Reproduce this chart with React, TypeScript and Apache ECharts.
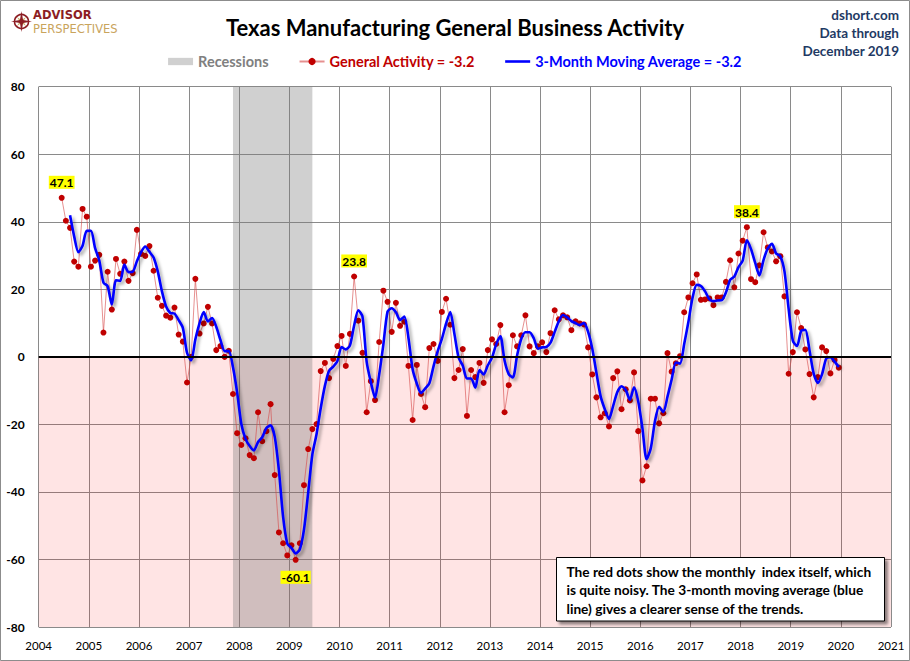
import React, { useEffect, useRef } from "react";
import * as echarts from "echarts";

// ---------- DATA (Dallas Fed Texas Manufacturing, General Business Activity) ----------
const firstYear = 2004;
const firstMonth = 6; // series starts June 2004
const ga2004 = [47.1, 40.3, 38.2, 28.2, 26.7, 43.8, 41.5];
const ga2005 = [26.7, 28.5, 30.2, 7.2, 25.2, 14.0, 29.0, 24.6, 28.2, 22.5, 24.8, 37.6];
const ga2006 = [30.5, 29.9, 32.8, 25.5, 17.5, 15.1, 12.2, 11.6, 14.6, 6.6, 4.5, -7.6];
const ga2007 = [0.0, 23.1, 6.9, 9.9, 14.8, 9.9, 2.0, 3.2, 0.0, 1.8, -11.0, -22.6];
const ga2008 = [-26.1, -24.1, -29.1, -30.0, -16.4, -25.0, -22.0, -14.0, -35.0, -52.0, -55.2, -58.8];
const ga2009 = [-55.8, -60.1, -55.2, -38.0, -27.3, -21.4, -19.9, -4.2, -1.8, -6.3, -0.6, 3.2];
const ga2010 = [6.2, -2.7, 6.8, 23.8, 10.7, 1.2, -16.4, -7.2, -12.8, 4.4, 19.6, 16.3];
const ga2011 = [7.4, 16.0, 9.2, 10.4, -2.7, -18.7, -2.4, -11.0, -14.9, 2.6, 3.8, -1.2];
const ga2012 = [13.3, 17.2, 9.5, -6.3, -3.9, 2.3, -17.5, -3.9, -6.0, -1.8, -7.7, 2.0];
const ga2013 = [5.2, 3.8, 9.4, -16.4, -8.4, 6.4, 3.1, 6.4, 12.3, 3.1, 1.1, 3.1];
const ga2014 = [4.3, 1.4, 7.0, 13.8, 11.1, 12.3, 11.7, 7.9, 10.5, 9.9, 9.6, 2.8];
const ga2015 = [-5.2, -12.0, -17.9, -16.7, -20.6, -6.3, -4.3, -15.5, -9.6, -12.9, -4.6, -22.0];
const ga2016 = [-36.6, -32.4, -12.4, -12.4, -19.7, -16.7, 1.1, -4.4, -1.9, 0.2, 13.2, 17.6];
const ga2017 = [21.8, 24.4, 16.9, 17.0, 17.3, 15.3, 17.6, 17.6, 22.2, 28.6, 20.6, 30.6];
const ga2018 = [34.4, 38.4, 23.0, 22.1, 27.1, 36.9, 32.4, 31.2, 28.3, 29.8, 17.9, -5.0];
const ga2019 = [1.4, 13.2, 8.5, 2.2, -5.1, -12.0, -6.0, 2.8, 1.7, -4.9, -0.9, -3.2];

const yearlyValues = [
  ga2004, ga2005, ga2006, ga2007, ga2008, ga2009, ga2010, ga2011,
  ga2012, ga2013, ga2014, ga2015, ga2016, ga2017, ga2018, ga2019,
];

// months whose value carries a yellow call-out label
const annotatedMonths = ["2004-06", "2009-02", "2010-04", "2018-02"];
// recession (peak month, trough month)
const recessions = [["2007-12", "2009-06"]];

const xTicks = { min: 2004, max: 2021, interval: 1 };
const yTicks = { min: -80, max: 80, interval: 20 };

const legendGA = "General Activity = -3.2";
const legendMA = "3-Month Moving Average = -3.2";
const legendRec = "Recessions";
const titleText = "Texas Manufacturing General Business Activity";
const sourceText = "dshort.com\nData through\nDecember 2019";
const noteText =
  "The red dots show the monthly  index itself, which\nis quite noisy. The 3-month moving average (blue\nline) gives a clearer sense of the trends.";

// ---------- helpers ----------
const monthToX = (ym: string) => {
  const [y, m] = ym.split("-").map(Number);
  return y + (m - 0.5) / 12;
};

const monthKeys: string[] = [];
const values: number[] = [];
yearlyValues.forEach((arr, yi) => {
  const year = firstYear + yi;
  arr.forEach((v, j) => {
    const month = (yi === 0 ? firstMonth : 1) + j;
    monthKeys.push(`${year}-${String(month).padStart(2, "0")}`);
    values.push(v);
  });
});

const FONT = 'Lato, "Open Sans", "DejaVu Sans", sans-serif';

export default function App() {
  const ref = useRef<HTMLDivElement>(null);

  useEffect(() => {
    document.body.style.margin = "0";
    const chart = echarts.init(ref.current!, null, { renderer: "svg" });

    const gaData = values.map((v, i) => {
      const key = monthKeys[i];
      const x = monthToX(key);
      if (annotatedMonths.includes(key)) {
        return {
          value: [x, v],
          label: {
            show: true,
            position: v < 0 ? "bottom" : "top",
            distance: v < 0 ? 8 : 6,
            formatter: () => v.toFixed(1),
            backgroundColor: "#FFFF00",
            color: "#000",
            fontFamily: FONT,
            fontWeight: "bold",
            fontSize: 12,
            padding: [1, 1, 0, 1],
          },
        };
      }
      return [x, v];
    });

    // 3-month moving average of the monthly readings
    const maData: number[][] = [];
    for (let i = 2; i < values.length; i++) {
      const avg = (values[i - 2] + values[i - 1] + values[i]) / 3;
      maData.push([monthToX(monthKeys[i]), Math.round(avg * 10) / 10]);
    }

    const recessionAreas = recessions.map(([p, t]) => [
      { xAxis: monthToX(p) - 1 / 12, itemStyle: { color: "rgba(120,120,120,0.35)" } },
      { xAxis: monthToX(t) },
    ]);

    // logo star points
    const cx = 21.5, cy = 21.5;
    const star = (r: number, ri: number, rot: number) => {
      const pts: number[][] = [];
      for (let k = 0; k < 8; k++) {
        const ang = rot + (k * Math.PI) / 4;
        const rr = k % 2 === 0 ? r : ri;
        pts.push([cx + rr * Math.sin(ang), cy - rr * Math.cos(ang)]);
      }
      return pts;
    };

    const option: any = {
      animation: false,
      textStyle: { fontFamily: FONT },
      title: {
        text: titleText,
        left: "center",
        top: 11,
        textStyle: { fontFamily: FONT, fontSize: 22, fontWeight: "bold", color: "#000" },
      },
      legend: {
        top: 49,
        left: "center",
        itemGap: 30,
        itemWidth: 25,
        itemHeight: 9,
        selectedMode: false,
        textStyle: { fontFamily: FONT, fontSize: 14.5, fontWeight: "bold" },
        data: [
          { name: legendRec, icon: "path://M0,0H24V7H0Z", textStyle: { color: "#808080" } },
          { name: legendGA, textStyle: { color: "#C00000" } },
          { name: legendMA, icon: "path://M0,0H25V2.6H0Z", textStyle: { color: "#0000FF" } },
        ],
      },
      grid: {
        left: 38.7,
        right: 19,
        top: 86.7,
        bottom: 34,
        containLabel: false,
        outerBoundsMode: "none",
      },
      xAxis: {
        type: "value",
        min: xTicks.min,
        max: xTicks.max,
        interval: xTicks.interval,
        axisLine: { show: false },
        axisTick: { show: false },
        splitLine: { show: true, lineStyle: { color: "#8a8a8a", width: 1 } },
        axisLabel: {
          formatter: (v: number) => String(v),
          color: "#000",
          fontFamily: FONT,
          fontSize: 11.5,
          margin: 12,
          showMinLabel: true,
          showMaxLabel: true,
        },
      },
      yAxis: {
        type: "value",
        min: yTicks.min,
        max: yTicks.max,
        interval: yTicks.interval,
        axisLine: { show: false },
        axisTick: { show: false },
        splitLine: { show: true, lineStyle: { color: "#8a8a8a", width: 1 } },
        axisLabel: {
          color: "#000",
          fontFamily: FONT,
          fontSize: 12,
          fontWeight: "bold",
          margin: 14,
        },
      },
      series: [
        {
          name: legendRec,
          type: "line",
          data: [],
          silent: true,
          itemStyle: { color: "#D0D0D0" },
          lineStyle: { color: "#D0D0D0" },
          markArea: {
            silent: true,
            data: [
              [{ yAxis: yTicks.min, itemStyle: { color: "rgba(255,0,0,0.105)" } }, { yAxis: 0 }],
              ...recessionAreas,
            ],
          },
          markLine: {
            silent: true,
            symbol: ["none", "none"],
            label: { show: false },
            lineStyle: { color: "#000", width: 2, type: "solid" },
            data: [{ yAxis: 0 }],
          },
        },
        {
          name: legendGA,
          type: "line",
          data: gaData,
          silent: true,
          symbol: "circle",
          symbolSize: 6,
          showAllSymbol: true,
          itemStyle: { color: "#C00000" },
          lineStyle: { color: "rgba(214,70,70,0.6)", width: 1 },
          label: { show: false },
          emphasis: { disabled: true },
          z: 3,
        },
        {
          name: legendMA,
          type: "line",
          data: maData,
          silent: true,
          symbol: "none",
          smooth: 0.25,
          itemStyle: { color: "#0000FF" },
          lineStyle: {
            color: "#0000FF",
            width: 2.6,
            shadowColor: "rgba(0,0,0,0.35)",
            shadowBlur: 3,
            shadowOffsetX: 2.5,
            shadowOffsetY: 2.5,
          },
          emphasis: { disabled: true },
          z: 4,
        },
      ],
      graphic: [
        // outer frame
        {
          type: "rect",
          silent: true,
          z: 100,
          shape: { x: 0.5, y: 0.5, width: 909, height: 660 },
          style: { fill: "none", stroke: "#8c8c8c", lineWidth: 1 },
        },
        // logo
        {
          type: "circle",
          silent: true,
          shape: { cx, cy, r: 7 },
          style: { fill: "none", stroke: "#8C1D23", lineWidth: 1.6 },
        },
        {
          type: "polygon",
          silent: true,
          shape: { points: star(6.5, 1.6, Math.PI / 4) },
          style: { fill: "#C9A45C" },
        },
        {
          type: "polygon",
          silent: true,
          shape: { points: star(10.5, 2.2, 0) },
          style: { fill: "#8C1D23" },
        },
        {
          type: "text",
          silent: true,
          x: 33,
          y: 15.2,
          style: {
            text: "ADVISOR",
            fill: "#8C1D23",
            fontFamily: '"DejaVu Sans", sans-serif',
            fontSize: 11.5,
            fontWeight: "bold",
            verticalAlign: "middle",
          },
        },
        {
          type: "text",
          silent: true,
          x: 33,
          y: 29,
          style: {
            text: "PERSPECTIVES",
            fill: "#C9A45C",
            fontFamily: '"DejaVu Sans", sans-serif',
            fontSize: 11.5,
            verticalAlign: "middle",
          },
        },
        // source text
        {
          type: "text",
          silent: true,
          x: 899,
          y: 5.7,
          style: {
            text: sourceText,
            fill: "#1F3A64",
            fontFamily: FONT,
            fontSize: 13.5,
            fontWeight: "bold",
            align: "right",
            verticalAlign: "top",
            lineHeight: 18,
          },
        },
        // note box
        {
          type: "rect",
          silent: true,
          z: 50,
          shape: { x: 556.5, y: 557.5, width: 328, height: 63.5 },
          style: {
            fill: "#fff",
            stroke: "#000",
            lineWidth: 1,
            shadowColor: "rgba(0,0,0,0.45)",
            shadowBlur: 3,
            shadowOffsetX: 3,
            shadowOffsetY: 3,
          },
        },
        {
          type: "text",
          silent: true,
          z: 51,
          x: 566.5,
          y: 562.5,
          style: {
            text: noteText,
            fill: "#000",
            fontFamily: FONT,
            fontSize: 13.7,
            fontWeight: "bold",
            lineHeight: 18.3,
            verticalAlign: "top",
          },
        },
      ],
    };

    chart.setOption(option);
    return () => chart.dispose();
  }, []);

  return <div ref={ref} style={{ width: 910, height: 661 }} />;
}
